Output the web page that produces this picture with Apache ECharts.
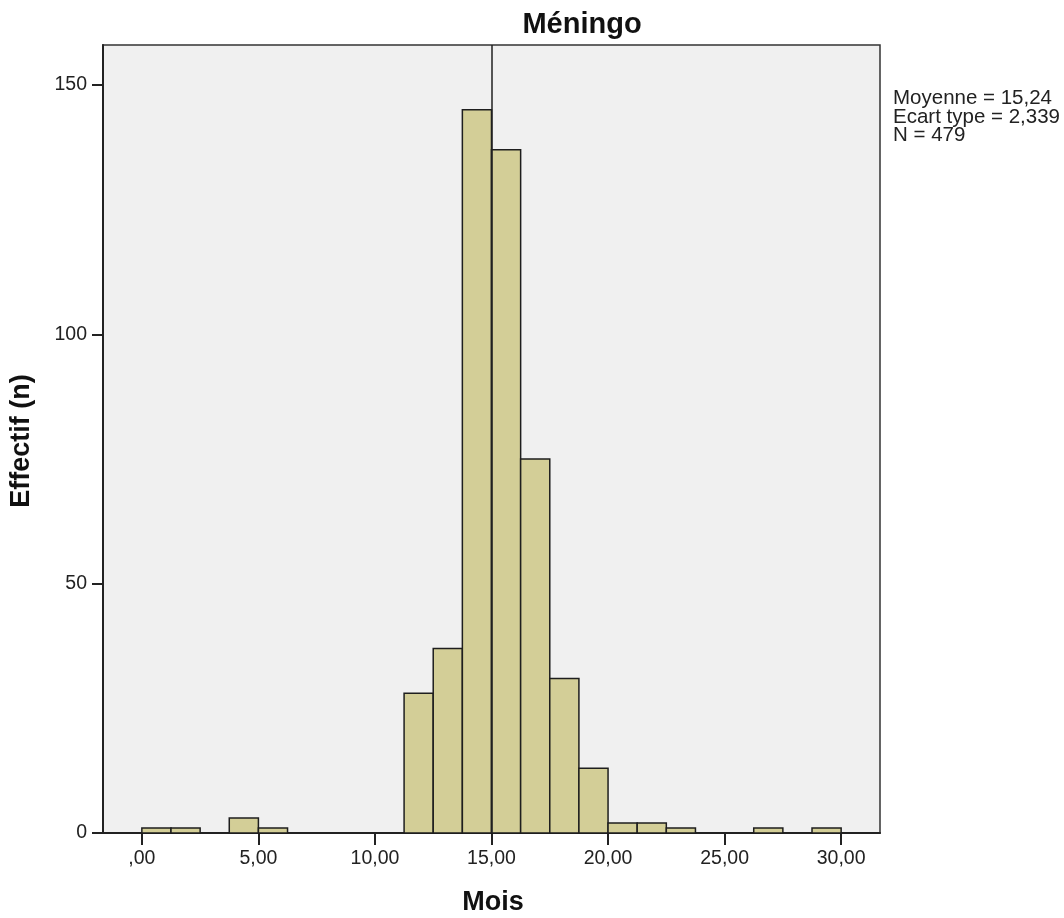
<!DOCTYPE html>
<html>
<head>
<meta charset="utf-8">
<script src="https://cdn.jsdelivr.net/npm/echarts@6/dist/echarts.min.js"></script>
<style>
html,body{margin:0;padding:0;background:#fff;}
#chart{width:1064px;height:918px;}
</style>
</head>
<body>
<div id="chart"></div>
<script>
// ---- data ----
const titleText = 'Méningo';
const xName = 'Mois';
const yName = 'Effectif (n)';
const binWidth = 1.25;
const binStarts = [0, 1.25, 3.75, 5, 11.25, 12.5, 13.75, 15, 16.25, 17.5, 18.75, 20, 21.25, 22.5, 26.25, 28.75];
const counts    = [1, 1, 3, 1, 28, 37, 145, 137, 75, 31, 13, 2, 2, 1, 1, 1];
const xTicks = [0, 5, 10, 15, 20, 25, 30];
const yTicks = [0, 50, 100, 150];
const meanLine = 15;
const statsLines = ['Moyenne = 15,24', 'Ecart type = 2,339', 'N = 479'];

const FONT = '"Liberation Sans", Arial, sans-serif';
const chart = echarts.init(document.getElementById('chart'), null, {renderer: 'canvas'});

function fmtX(v) {
  let s = Number(v).toFixed(2).replace('.', ',');
  if (s.indexOf('0,') === 0) s = s.substring(1);
  return s;
}

const histData = binStarts.map((s, i) => [s, s + binWidth, counts[i]]);

const option = {
  backgroundColor: '#ffffff',
  animation: false,
  grid: {
    left: 103, right: 184, top: 45, bottom: 85,
    show: true, backgroundColor: '#F0F0F0',
    borderColor: '#333333', borderWidth: 1.5
  },
  xAxis: {
    type: 'value', min: -1.667, max: 31.667,
    splitLine: {show: false},
    axisLine: {show: true, onZero: false, lineStyle: {color: '#222', width: 2}},
    axisTick: {show: true, customValues: xTicks, length: 12, lineStyle: {color: '#222', width: 2}},
    axisLabel: {customValues: xTicks, formatter: fmtX, margin: 16, color: '#222', fontSize: 19.5, fontFamily: FONT}
  },
  yAxis: {
    type: 'value', min: 0, max: 158,
    splitLine: {show: false},
    axisLine: {show: true, onZero: false, lineStyle: {color: '#222', width: 2}},
    axisTick: {show: true, customValues: yTicks, length: 11, lineStyle: {color: '#222', width: 2}},
    axisLabel: {customValues: yTicks, margin: 16, color: '#222', fontSize: 19.5, fontFamily: FONT}
  },
  series: [
    {
      type: 'custom',
      data: histData,
      encode: {x: [0, 1], y: 2},
      z: 3,
      renderItem: function (params, api) {
        const p0 = api.coord([api.value(0), api.value(2)]);
        const p1 = api.coord([api.value(1), 0]);
        return {
          type: 'rect',
          shape: {x: p0[0], y: p0[1], width: p1[0] - p0[0], height: p1[1] - p0[1]},
          style: {fill: '#D3CE97', stroke: '#1e1e1e', lineWidth: 1.5}
        };
      }
    },
    {
      type: 'scatter',
      data: [],
      z: 2,
      markLine: {
        silent: true, symbol: 'none', label: {show: false},
        lineStyle: {color: '#222', width: 1.5, type: 'solid'},
        data: [{xAxis: meanLine}]
      }
    }
  ],
  graphic: [
    {type: 'text', x: 582, y: 25, z: 10,
      style: {text: titleText, font: 'bold 29px ' + FONT, fill: '#111', textAlign: 'center', textVerticalAlign: 'middle'}},
    {type: 'text', x: 493, y: 903, z: 10,
      style: {text: xName, font: 'bold 27px ' + FONT, fill: '#111', textAlign: 'center', textVerticalAlign: 'middle'}},
    {type: 'text', x: 22, y: 441, rotation: Math.PI / 2, z: 10,
      style: {text: yName, font: 'bold 27px ' + FONT, fill: '#111', textAlign: 'center', textVerticalAlign: 'middle'}},
    {type: 'text', x: 893, y: 98, z: 10,
      style: {text: statsLines[0], font: '20.5px ' + FONT, fill: '#222', textAlign: 'left', textVerticalAlign: 'middle'}},
    {type: 'text', x: 893, y: 117, z: 10,
      style: {text: statsLines[1], font: '20.5px ' + FONT, fill: '#222', textAlign: 'left', textVerticalAlign: 'middle'}},
    {type: 'text', x: 893, y: 135, z: 10,
      style: {text: statsLines[2], font: '20.5px ' + FONT, fill: '#222', textAlign: 'left', textVerticalAlign: 'middle'}}
  ]
};
chart.setOption(option);
</script>
</body>
</html>
